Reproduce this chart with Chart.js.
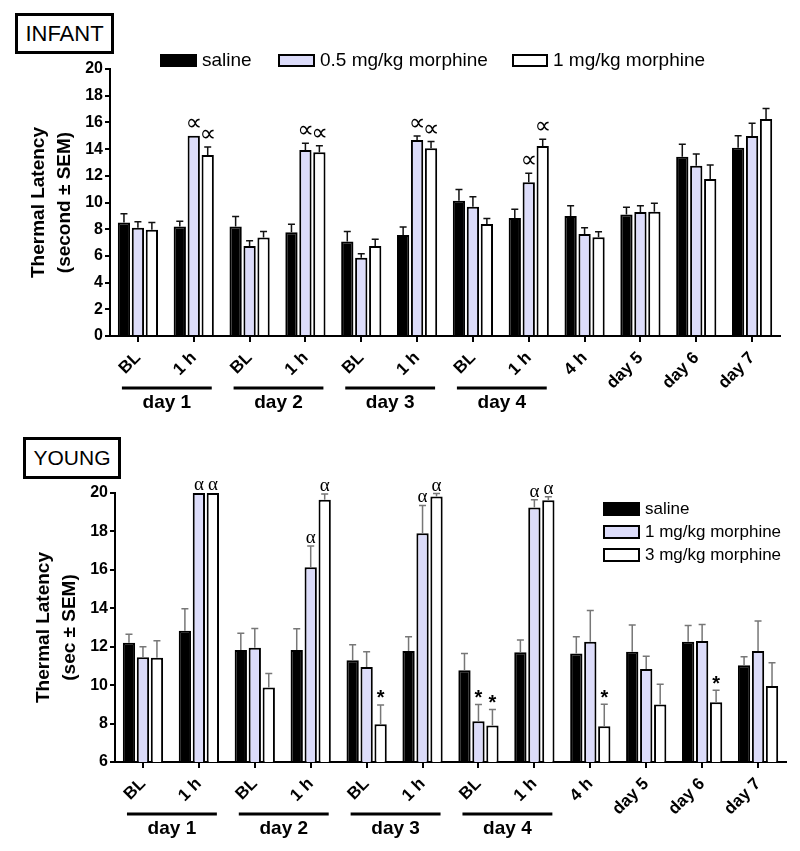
<!DOCTYPE html>
<html lang="en">
<head>
<meta charset="UTF-8">
<title>Thermal latency - infant and young</title>
<script src="https://cdn.jsdelivr.net/npm/chart.js"></script>
<style>
body { margin: 0; background: #fff; font-family: "Liberation Sans", Arial, sans-serif; }
#page { position: relative; width: 800px; height: 851px; overflow: hidden; }
.panel { position: absolute; left: 0; width: 800px; }
.tag { position: absolute; border: 3px solid #000; box-sizing: border-box; font-size: 22px;
       display: flex; align-items: center; justify-content: center; background: #fff; }
.key { position: absolute; display: flex; align-items: center; color: #000; white-space: nowrap; }
.swatch { display: inline-block; box-sizing: border-box; border: 2px solid #000; margin-right: 5px; }
</style>
</head>
<body>
<div id="page">
  <div class="panel" style="top:0;height:425px"><canvas id="infantChart"></canvas></div>
  <div class="panel" style="top:425px;height:426px"><canvas id="youngChart"></canvas></div>

  <div class="tag" style="left:15px;top:13px;width:99px;height:41px">INFANT</div>
  <div class="tag" style="left:23px;top:437px;width:98px;height:42px;font-size:21px">YOUNG</div>

  <!-- infant legend -->
  <div class="key" style="left:160px;top:49px;font-size:19px"><span class="swatch" style="width:37px;height:13px;background:#000"></span>saline</div>
  <div class="key" style="left:278px;top:49px;font-size:19px"><span class="swatch" style="width:37px;height:13px;background:#dcdcfa"></span>0.5 mg/kg morphine</div>
  <div class="key" style="left:512px;top:49px;font-size:19px"><span class="swatch" style="width:36px;height:13px;background:#fff"></span>1 mg/kg morphine</div>

  <!-- young legend -->
  <div class="key" style="left:603px;top:499px;font-size:17px"><span class="swatch" style="width:37px;height:14px;background:#000"></span>saline</div>
  <div class="key" style="left:603px;top:522px;font-size:17px"><span class="swatch" style="width:37px;height:14px;background:#dcdcfa"></span>1 mg/kg morphine</div>
  <div class="key" style="left:603px;top:545px;font-size:17px"><span class="swatch" style="width:37px;height:14px;background:#fff"></span>3 mg/kg morphine</div>
</div>

<script>
// categories shared by both panels
const categories = ['BL', '1 h', 'BL', '1 h', 'BL', '1 h', 'BL', '1 h', '4 h', 'day 5', 'day 6', 'day 7'];
const groupLabels = ['day 1', 'day 2', 'day 3', 'day 4'];

// INFANT panel (seconds, mean and SEM)
const infantSaline    = [8.5, 8.2, 8.2, 7.77, 7.07, 7.57, 10.13, 8.84, 8.99, 9.11, 13.43, 14.1];
const infantSalineSem = [0.65, 0.4, 0.75, 0.6, 0.75, 0.6, 0.85, 0.65, 0.77, 0.53, 0.93, 0.9];
const infantLow       = [8.1, 15.0, 6.74, 13.93, 5.87, 14.68, 9.69, 11.51, 7.64, 9.29, 12.76, 14.98];
const infantLowSem    = [0.45, 0, 0.4, 0.5, 0.3, 0.3, 0.75, 0.68, 0.47, 0.47, 0.87, 0.95];
const infantHigh      = [7.96, 13.56, 7.37, 13.76, 6.74, 14.06, 8.39, 14.23, 7.39, 9.31, 11.76, 16.25];
const infantHighSem   = [0.55, 0.6, 0.45, 0.5, 0.5, 0.5, 0.42, 0.5, 0.42, 0.63, 1.05, 0.8];
const infantLowMarks  = ['', '∝', '', '∝', '', '∝', '', '∝', '', '', '', ''];
const infantHighMarks = ['', '∝', '', '∝', '', '∝', '', '∝', '', '', '', ''];
const infantTicks = [0, 20, 2];

// YOUNG panel (seconds, mean and SEM)
const youngSaline    = [12.21, 12.83, 11.83, 11.83, 11.3, 11.78, 10.78, 11.71, 11.65, 11.74, 12.26, 11.04];
const youngSalineSem = [0.44, 1.14, 0.87, 1.1, 0.8, 0.74, 0.87, 0.64, 0.87, 1.39, 0.84, 0.44];
const youngLow       = [11.45, 20, 11.95, 16.14, 10.94, 17.91, 8.12, 19.25, 12.26, 10.84, 12.3, 11.78];
const youngLowSem    = [0.55, 0, 1.0, 1.1, 0.8, 1.44, 0.87, 0.4, 1.62, 0.67, 0.86, 1.56];
const youngHigh      = [11.43, 20, 9.88, 19.65, 7.97, 19.82, 7.9, 19.62, 7.86, 8.99, 9.11, 9.96];
const youngHighSem   = [0.88, 0, 0.73, 0.3, 1.0, 0.15, 0.83, 0.18, 1.15, 1.06, 0.63, 1.2];
const youngLowMarks  = ['', 'α', '', 'α', '', 'α', '*', 'α', '', '', '', ''];
const youngHighMarks = ['', 'α', '', 'α', '*', 'α', '*', 'α', '*', '', '*', ''];
const youngTicks = [6, 20, 2];

const FONT = '"Liberation Sans", Arial, sans-serif';
Chart.defaults.font.family = FONT;
Chart.defaults.color = '#000';

// error bars, significance marks and the "day n" group bars under the axis
const extrasPlugin = {
    id: 'extras',
    afterDatasetsDraw(chart, args, opts) {
        const ctx = chart.ctx;
        const y = chart.scales.y;
        ctx.save();
        chart.data.datasets.forEach((ds, i) => {
            const meta = chart.getDatasetMeta(i);
            meta.data.forEach((bar, j) => {
                const sem = ds.sem[j];
                const top = y.getPixelForValue(ds.data[j] + sem);
                if (sem > 0) {
                    ctx.strokeStyle = opts.errColor;
                    ctx.lineWidth = 1.5;
                    ctx.beginPath();
                    ctx.moveTo(bar.x, bar.y);
                    ctx.lineTo(bar.x, top);
                    ctx.moveTo(bar.x - 3.5, top);
                    ctx.lineTo(bar.x + 3.5, top);
                    ctx.stroke();
                }
                const m = ds.marks[j];
                if (m) {
                    ctx.fillStyle = '#000';
                    ctx.textAlign = 'center';
                    ctx.textBaseline = 'middle';
                    if (m === '*') ctx.font = 'bold 20px ' + FONT;
                    else if (m === 'α') ctx.font = '19px "Liberation Serif", serif';
                    else ctx.font = '23px "DejaVu Sans", sans-serif';
                    ctx.fillText(m, bar.x, Math.min(top, bar.y) - (m === '*' ? 6 : opts.markGap));
                }
            });
        });
    },
    afterDraw(chart, args, opts) {
        const ctx = chart.ctx;
        const x = chart.scales.x;
        const base = chart.chartArea.bottom;
        ctx.save();
        ctx.strokeStyle = '#000';
        ctx.lineWidth = 3;
        ctx.fillStyle = '#000';
        ctx.font = 'bold 19px ' + FONT;
        ctx.textAlign = 'center';
        ctx.textBaseline = 'middle';
        groupLabels.forEach((g, k) => {
            const x0 = x.getPixelForValue(2 * k) - 16;
            const x1 = x.getPixelForValue(2 * k + 1) + 18;
            ctx.beginPath();
            ctx.moveTo(x0, base + opts.lineGap);
            ctx.lineTo(x1, base + opts.lineGap);
            ctx.stroke();
            ctx.fillText(g, (x0 + x1) / 2, base + opts.textGap);
        });
        ctx.restore();
    }
};

function makeChart(id, series, ticks, layout) {
    const fills = ['#000', '#dcdcfa', '#fff'];
    return new Chart(document.getElementById(id), {
        type: 'bar',
        data: {
            labels: categories,
            datasets: series.map((s, i) => ({
                label: s.label,
                data: s.data,
                sem: s.sem,
                marks: s.marks,
                backgroundColor: fills[i],
                borderColor: '#000',
                borderWidth: 2,
                categoryPercentage: 0.75,
                barPercentage: 0.88
            }))
        },
        options: {
            responsive: true,
            maintainAspectRatio: false,
            animation: false,
            layout: { padding: { top: layout.top, right: layout.right, left: 0, bottom: 0 } },
            plugins: {
                legend: { display: false },
                tooltip: { enabled: false },
                extras: { errColor: layout.errColor, markGap: layout.markGap, lineGap: 52, textGap: 67 }
            },
            scales: {
                x: {
                    offset: true,
                    afterFit(scale) { scale.height = layout.xHeight; },
                    border: { display: true, color: '#000', width: 2 },
                    grid: { display: true, offset: false, drawOnChartArea: false, drawTicks: true, tickLength: 6, color: '#000', lineWidth: 2 },
                    ticks: { minRotation: 45, maxRotation: 45, padding: 6, font: { size: 17, weight: 'bold' }, color: '#000' }
                },
                y: {
                    min: ticks[0],
                    max: ticks[1],
                    afterFit(scale) { scale.width = layout.left; },
                    border: { display: true, color: '#000', width: 2 },
                    grid: { display: true, drawOnChartArea: false, drawTicks: true, tickLength: 5, color: '#000', lineWidth: 2 },
                    ticks: { stepSize: ticks[2], padding: 2, font: { size: 16, weight: 'bold' }, color: '#000' },
                    title: {
                        display: true,
                        text: layout.title,
                        color: '#000',
                        font: { size: 19, weight: 'bold', lineHeight: 1.35 },
                        padding: { top: layout.titlePad, bottom: 0 }
                    }
                }
            }
        },
        plugins: [extrasPlugin]
    });
}

makeChart('infantChart', [
    { label: 'saline', data: infantSaline, sem: infantSalineSem, marks: categories.map(() => '') },
    { label: '0.5 mg/kg morphine', data: infantLow, sem: infantLowSem, marks: infantLowMarks },
    { label: '1 mg/kg morphine', data: infantHigh, sem: infantHighSem, marks: infantHighMarks }
], infantTicks, { top: 69, right: 20, left: 110, xHeight: 89, title: ['Thermal Latency', '(second ± SEM)'], titlePad: 26, errColor: '#111', markGap: 12 });

makeChart('youngChart', [
    { label: 'saline', data: youngSaline, sem: youngSalineSem, marks: categories.map(() => '') },
    { label: '1 mg/kg morphine', data: youngLow, sem: youngLowSem, marks: youngLowMarks },
    { label: '3 mg/kg morphine', data: youngHigh, sem: youngHighSem, marks: youngHighMarks }
], youngTicks, { top: 68, right: 14, left: 115, xHeight: 89, title: ['Thermal Latency', '(sec ± SEM)'], titlePad: 31, errColor: '#777', markGap: 8 });
</script>
</body>
</html>
